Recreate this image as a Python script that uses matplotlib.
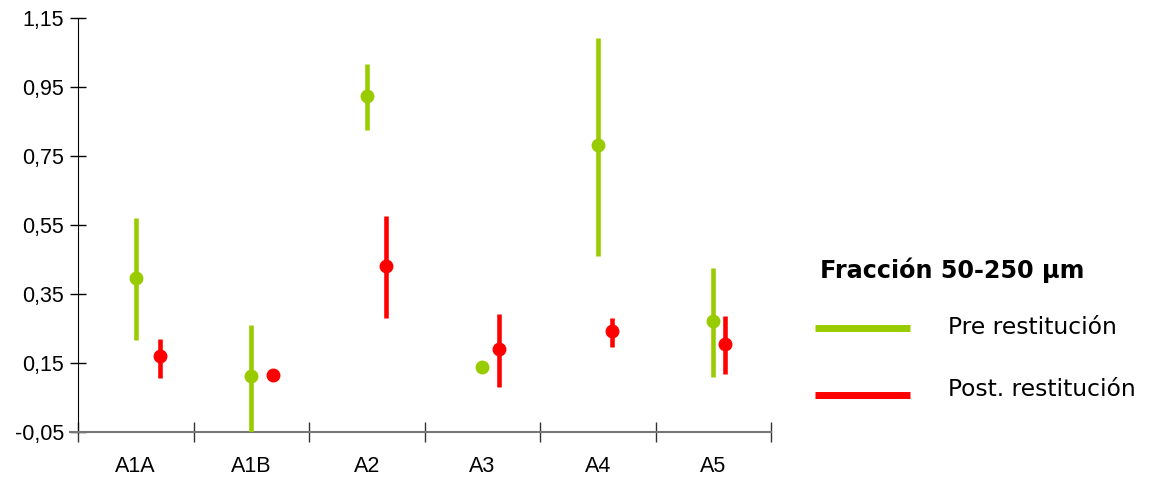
import matplotlib.pyplot as plt
from matplotlib.lines import Line2D
import numpy as np

categories = ["A1A", "A1B", "A2", "A3", "A4", "A5"]

pre_mean = [0.396, 0.112, 0.924, 0.138, 0.782, 0.272]
pre_low = [0.217, -0.05, 0.825, 0.138, 0.460, 0.110]
pre_high = [0.570, 0.260, 1.017, 0.138, 1.092, 0.425]

post_mean = [0.170, 0.115, 0.431, 0.190, 0.243, 0.205]
post_low = [0.107, 0.115, 0.280, 0.080, 0.196, 0.118]
post_high = [0.220, 0.115, 0.576, 0.292, 0.280, 0.286]

GREEN = '#99cc00'
RED = '#ff0000'

fig = plt.figure(figsize=(11.55, 4.8), dpi=100)
ax = fig.add_axes([78 / 1155, 48 / 480, (771 - 78) / 1155, (432 - 18) / 480])

x = np.arange(len(categories))
x_post = x * 0.978 + 0.21


def draw_series(xs, mean, low, high, color):
    mean = np.array(mean)
    err = [mean - np.array(low), np.array(high) - mean]
    ax.errorbar(xs, mean, yerr=err, fmt='o', color=color, ecolor=color,
                elinewidth=3.3, markersize=9, capsize=0, zorder=3)


draw_series(x, pre_mean, pre_low, pre_high, GREEN)
draw_series(x_post, post_mean, post_low, post_high, RED)

ax.set_xlim(-0.5, len(categories) - 0.5)
ax.set_ylim(-0.05, 1.15)

yt = np.arange(-0.05, 1.151, 0.2)
ax.set_yticks(yt)
ax.set_yticklabels([f"{v:.2f}".replace('.', ',') for v in yt], fontsize=15.5,
                   family='Liberation Sans')
ax.tick_params(axis='y', direction='inout', length=12, width=1, pad=4)

ax.set_xticks(np.arange(-0.5, len(categories)), minor=False)
ax.set_xticklabels([])
ax.set_xticks(x, minor=True)
ax.set_xticklabels(categories, minor=True, fontsize=15.5, family='Liberation Sans')
ax.tick_params(axis='x', which='major', direction='inout', length=15, width=1,
               color='#333333')
ax.tick_params(axis='x', which='minor', length=0, pad=17)

for s in ['top', 'right']:
    ax.spines[s].set_visible(False)
ax.spines['left'].set_color('black')
ax.spines['bottom'].set_color('#777777')
ax.spines['bottom'].set_linewidth(1.5)
ax.spines['bottom'].set_bounds(-0.57, len(categories) - 0.5)

# legend drawn by hand
fig.text(820 / 1155, 1 - 270 / 480, "Fracción 50-250 µm", fontsize=17.2,
         fontweight='bold', va='center', ha='left')
fig.add_artist(Line2D([815 / 1155, 910 / 1155], [1 - 328 / 480] * 2,
                      color=GREEN, lw=5, solid_capstyle='butt'))
fig.add_artist(Line2D([815 / 1155, 910 / 1155], [1 - 395 / 480] * 2,
                      color=RED, lw=5, solid_capstyle='butt'))
fig.text(948 / 1155, 1 - 327 / 480, "Pre restitución", fontsize=16.8,
         va='center', ha='left')
fig.text(948 / 1155, 1 - 390 / 480, "Post. restitución", fontsize=16.8,
         va='center', ha='left')

plt.savefig('out.png', dpi=100)
